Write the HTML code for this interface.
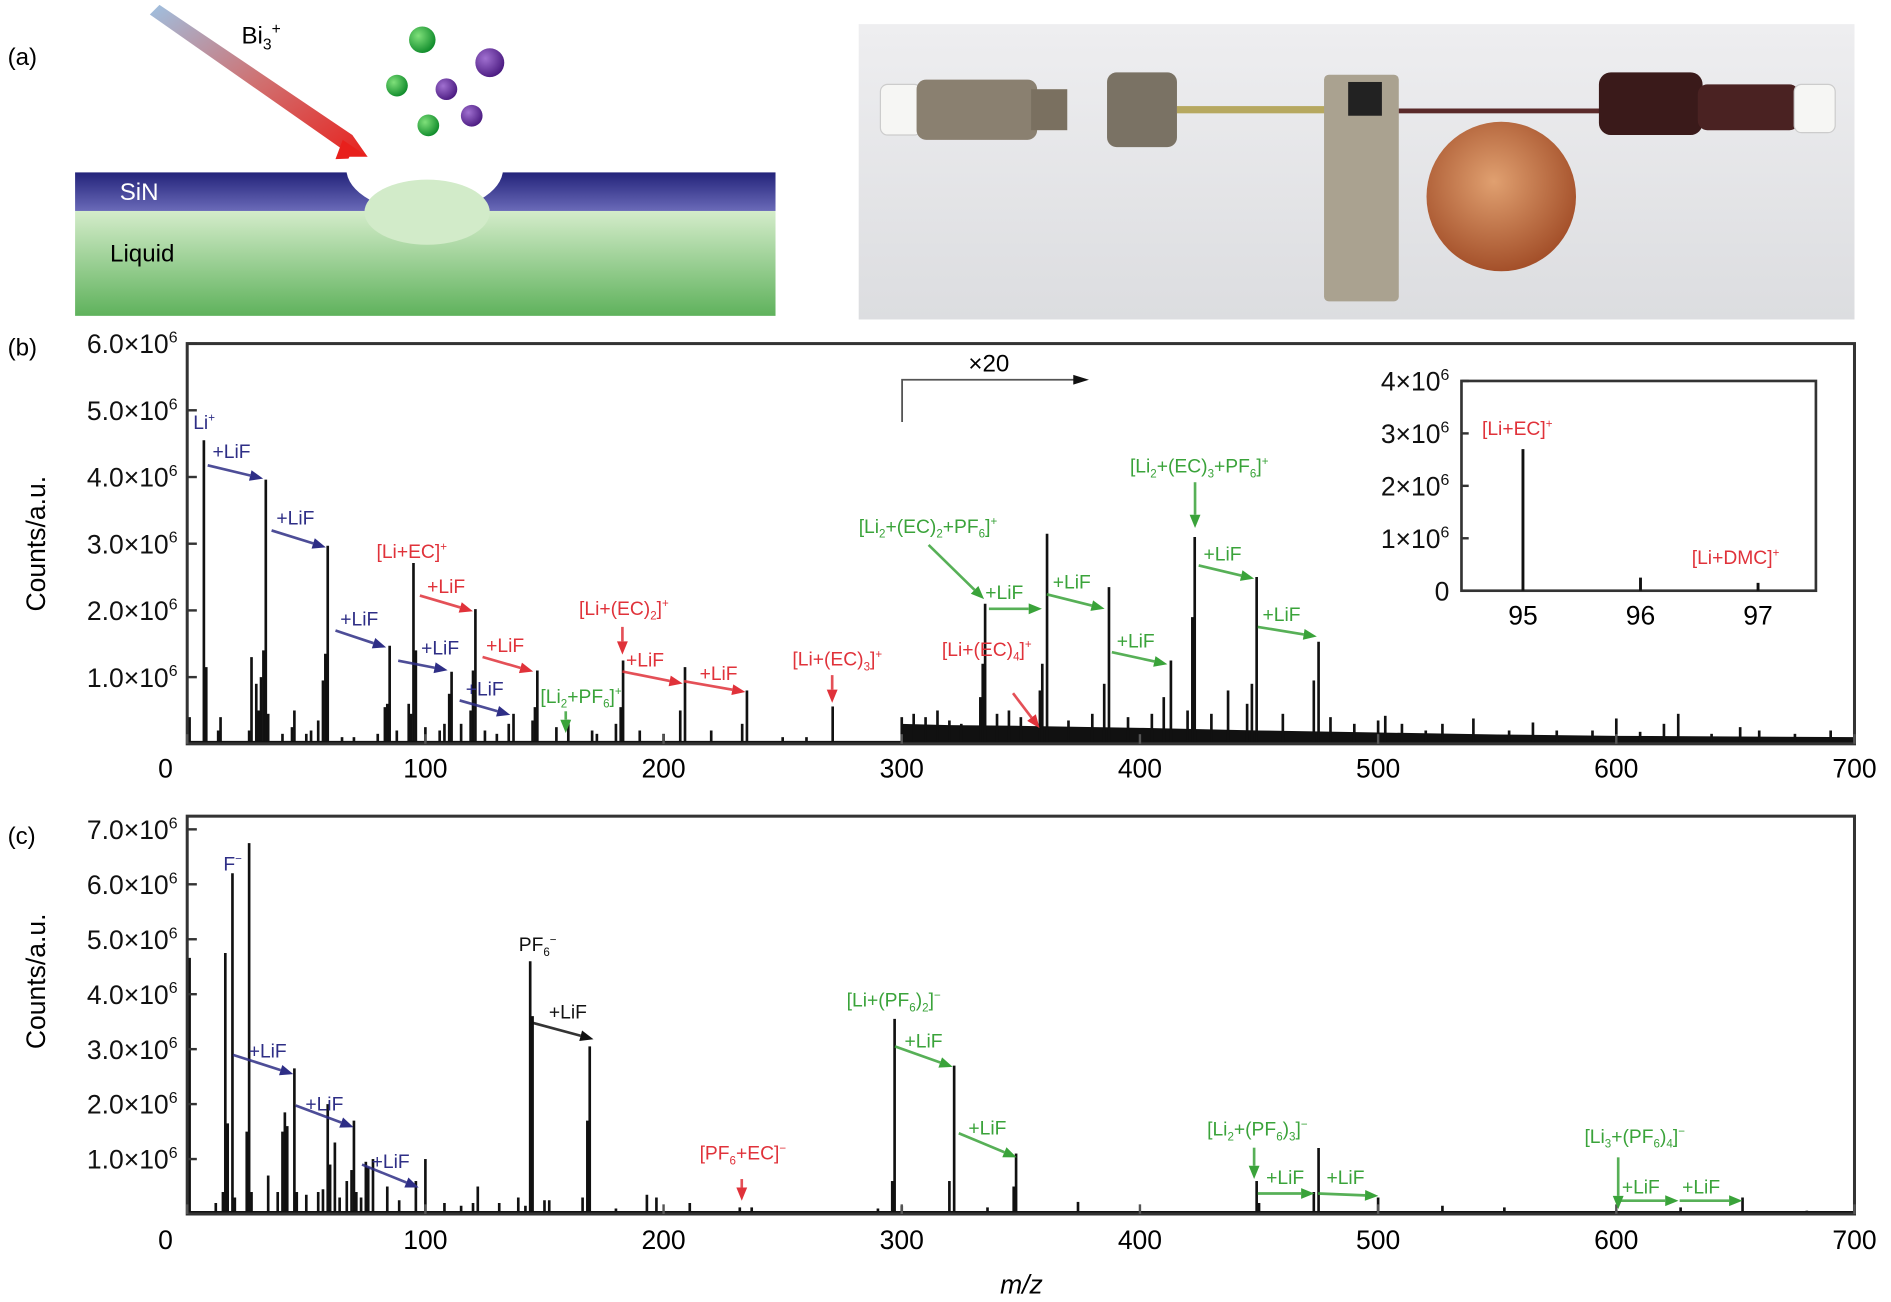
<!DOCTYPE html>
<html><head><meta charset="utf-8">
<style>
html,body{margin:0;padding:0;background:#fff;}
svg{display:block;}
text{font-family:"Liberation Sans",Arial,sans-serif;}
</style></head>
<body>
<svg id="fig" width="1891" height="1302" viewBox="0 0 1568 1080" xmlns="http://www.w3.org/2000/svg">
<defs>
<linearGradient id="beam" x1="0" y1="0" x2="1" y2="1"><stop offset="0" stop-color="#9fc0e0"/><stop offset="0.5" stop-color="#d07070"/><stop offset="1" stop-color="#e8201c"/></linearGradient>
<linearGradient id="sin" x1="0" y1="0" x2="0" y2="1"><stop offset="0" stop-color="#23237a"/><stop offset="1" stop-color="#6a6ab8"/></linearGradient>
<linearGradient id="liq" x1="0" y1="0" x2="0" y2="1"><stop offset="0" stop-color="#d4ecca"/><stop offset="1" stop-color="#5fb25c"/></linearGradient>
<radialGradient id="gball" cx="0.35" cy="0.35" r="0.7"><stop offset="0" stop-color="#7fe07a"/><stop offset="1" stop-color="#0e8a2a"/></radialGradient>
<radialGradient id="pball" cx="0.35" cy="0.35" r="0.7"><stop offset="0" stop-color="#a070d0"/><stop offset="1" stop-color="#4a1a80"/></radialGradient>
<radialGradient id="coin" cx="0.45" cy="0.4" r="0.6"><stop offset="0" stop-color="#e0a070"/><stop offset="1" stop-color="#a4502a"/></radialGradient>
<linearGradient id="photoBg" x1="0" y1="0" x2="0" y2="1"><stop offset="0" stop-color="#eeeef0"/><stop offset="1" stop-color="#dcdde0"/></linearGradient>
<clipPath id="bandClip"><rect x="62" y="130" width="581" height="45"/></clipPath>
</defs>

<!-- Panel a -->
<g>
<text x="6" y="54" font-size="20">(a)</text>
<polygon points="124,12 132,4 292,112 306,132 284,124" fill="url(#beam)"/>
<polygon points="284,116 306,131 278,132" fill="#e8201c"/>
<text x="200" y="36" font-size="20">Bi<tspan font-size="13" dy="5">3</tspan><tspan font-size="13" dy="-13">+</tspan></text>
<circle cx="350" cy="33" r="11" fill="url(#gball)"/><circle cx="329" cy="71" r="9" fill="url(#gball)"/><circle cx="355" cy="104" r="9" fill="url(#gball)"/>
<circle cx="406" cy="52" r="12" fill="url(#pball)"/><circle cx="370" cy="74" r="9" fill="url(#pball)"/><circle cx="391" cy="96" r="9" fill="url(#pball)"/>
<rect x="62" y="143" width="581" height="32" fill="url(#sin)"/>
<ellipse cx="352" cy="140" rx="65" ry="36" fill="#fff" clip-path="url(#bandClip)"/>
<rect x="62" y="175" width="581" height="87" fill="url(#liq)"/>
<ellipse cx="354" cy="176" rx="52" ry="27" fill="#d2ebc9"/>
<text x="99" y="166" font-size="20" fill="#fff">SiN</text>
<text x="91" y="217" font-size="20">Liquid</text>
</g>

<!-- Photo -->
<g>
<rect x="712" y="20" width="826" height="245" fill="url(#photoBg)"/>
<rect x="730" y="70" width="34" height="42" rx="6" fill="#f6f6f4" stroke="#ccc"/>
<rect x="760" y="66" width="100" height="50" rx="8" fill="#8a8070"/>
<rect x="855" y="74" width="30" height="34" fill="#7a7060"/>
<rect x="918" y="60" width="58" height="62" rx="8" fill="#7a7264"/>
<rect x="976" y="88" width="128" height="6" fill="#b6a860"/>
<rect x="1098" y="62" width="62" height="188" rx="4" fill="#aaa290"/>
<rect x="1118" y="68" width="28" height="28" fill="#222"/>
<rect x="1160" y="90" width="170" height="4" fill="#5a2a2a"/>
<circle cx="1245" cy="163" r="62" fill="url(#coin)"/>
<rect x="1326" y="60" width="86" height="52" rx="10" fill="#3a1a1a"/>
<rect x="1408" y="70" width="84" height="38" rx="8" fill="#4a2222"/>
<rect x="1488" y="70" width="34" height="40" rx="6" fill="#f6f6f4" stroke="#ccc"/>
</g>

<g id="panelB"></g>
<g id="panelC"></g>
</svg>

<script>
// ---------- Panel b data ----------
const bPeakMz = [1,7,8,13,14,26,27,29,30,31,32,33,34,40,44,45,50,52,55,57,58,59,65,70,80,83,84,85,88,93,94,95,96,100,106,108,110,111,115,119,120,121,125,130,135,137,145,146,147,155,160,170,172,180,182,183,190,200,207,209,220,233,235,250,260,271,300,305,310,315,320,325,333,334,335,340,345,350,358,359,361,370,380,385,387,395,405,410,413,420,422,423,430,437,445,447,449,460,473,475,480,490,500,503,510,520,527,540,555,565,575,590,600,610,620,626,640,652,660,675,690];
const bPeakVal = [0.4,4.55,1.15,0.2,0.4,0.2,1.3,0.9,0.5,1.0,1.4,3.96,0.45,0.15,0.25,0.5,0.15,0.2,0.35,0.95,1.35,2.97,0.1,0.1,0.15,0.55,0.6,1.47,0.2,0.6,0.45,2.71,1.4,0.25,0.2,0.3,0.75,1.08,0.3,0.5,1.1,2.02,0.2,0.15,0.3,0.45,0.35,0.55,1.1,0.25,0.36,0.2,0.15,0.3,0.55,1.25,0.2,0.15,0.5,1.15,0.2,0.3,0.8,0.1,0.1,0.56,0.4,0.45,0.4,0.5,0.35,0.3,0.7,1.2,2.1,0.45,0.5,0.4,0.8,1.2,3.15,0.35,0.45,0.9,2.35,0.4,0.45,0.7,1.25,0.5,1.9,3.1,0.45,0.8,0.6,0.9,2.5,0.45,0.95,1.53,0.4,0.3,0.35,0.42,0.3,0.2,0.3,0.38,0.2,0.32,0.2,0.2,0.38,0.18,0.3,0.45,0.15,0.25,0.2,0.15,0.2];
const bBaseMz  = [300,320,350,400,450,500,550,600,650,700];
const bBaseVal = [0.3,0.28,0.27,0.24,0.2,0.17,0.14,0.12,0.11,0.1];
const bYTicks = [1,2,3,4,5,6];
const bXTicks = [0,100,200,300,400,500,600,700];
const insetMz = [95,96,97];
const insetVal = [2.7,0.25,0.15];
const insetYTicks = [0,1,2,3,4];

// ---------- Panel c data ----------
const cPeakMz = [1,12,15,16,17,19,20,25,26,27,34,38,40,41,42,45,46,50,55,57,59,60,62,64,67,69,70,71,73,75,76,78,84,89,96,100,108,115,120,122,131,139,142,144,145,150,152,166,168,169,180,193,197,211,232,237,260,290,296,297,300,320,322,336,347,348,374,400,420,449,450,473,475,500,527,553,580,600,627,653,680];
const cPeakVal = [4.66,0.2,0.4,4.75,1.65,6.2,0.3,1.5,6.75,0.4,0.7,0.4,1.5,1.85,1.6,2.65,0.4,0.35,0.4,0.45,2.0,0.9,1.3,0.3,0.6,0.8,1.7,0.4,0.3,0.95,0.85,1.0,0.5,0.25,0.6,1.0,0.2,0.15,0.2,0.5,0.2,0.3,0.15,4.6,3.6,0.25,0.25,0.3,1.7,3.05,0.1,0.35,0.3,0.2,0.12,0.12,0.05,0.1,0.6,3.55,0.15,0.6,2.7,0.12,0.5,1.1,0.22,0.05,0.05,0.6,0.2,0.4,1.2,0.3,0.15,0.12,0.05,0.06,0.12,0.3,0.06];
const cYTicks = [1,2,3,4,5,6,7];
const cXTicks = [0,100,200,300,400,500,600,700];

const NS = 'http://www.w3.org/2000/svg';
function el(tag, attrs, parent) {
  const e = document.createElementNS(NS, tag);
  for (const k in attrs) e.setAttribute(k, attrs[k]);
  parent.appendChild(e);
  return e;
}
function richText(parent, x, y, parts, size, fill, anchor) {
  const t = el('text', {x: x, y: y, 'font-size': size, fill: fill, 'text-anchor': anchor || 'start'}, parent);
  let shift = 0;
  parts.forEach(p => {
    const s = document.createElementNS(NS, 'tspan');
    let dy = 0, fs = size;
    if (p[1] === 'sup') { dy = -size * 0.4 - shift; shift = -size * 0.4; fs = size * 0.6; }
    else if (p[1] === 'sub') { dy = size * 0.25 - shift; shift = size * 0.25; fs = size * 0.6; }
    else { dy = -shift; shift = 0; }
    s.setAttribute('dy', dy);
    s.setAttribute('font-size', fs);
    s.textContent = p[0];
    t.appendChild(s);
  });
  return t;
}
function arrow(parent, x1, y1, x2, y2, color) {
  const g = el('g', {}, parent);
  const dx = x2 - x1, dy = y2 - y1, L = Math.hypot(dx, dy), ux = dx / L, uy = dy / L;
  const bx = x2 - ux * 11, by = y2 - uy * 11;
  el('line', {x1: x1, y1: y1, x2: bx, y2: by, stroke: color, 'stroke-width': 2.2, opacity: 0.85}, g);
  el('polygon', {points: `${x2},${y2} ${bx - uy * 4.5},${by + ux * 4.5} ${bx + uy * 4.5},${by - ux * 4.5}`, fill: color}, g);
  return g;
}

const X0 = 155, X1 = 1538, XMAX = 700;
const xs = m => X0 + (m / XMAX) * (X1 - X0);

// ---------- Panel b ----------
(function () {
  const g = document.getElementById('panelB');
  const top = 285, bot = 617, ymax = 6;
  const ys = v => bot - (v / ymax) * (bot - top);
  const lbl = el('text', {x: 6, y: 295, 'font-size': 20}, g);
    lbl.textContent = '(b)';
  let pts = `${xs(bBaseMz[0])},${bot} `;
  bBaseMz.forEach((m, i) => { pts += `${xs(m)},${ys(bBaseVal[i])} `; });
  pts += `${xs(bBaseMz[bBaseMz.length - 1])},${bot}`;
  const bf = el('polygon', {points: pts, fill: '#111'}, g);
   
  el('line', {x1: X0, y1: bot - 1, x2: X1, y2: bot - 1, stroke: '#111', 'stroke-width': 3}, g);
  bPeakMz.forEach((m, i) => {
    const l = el('line', {x1: xs(m), y1: bot, x2: xs(m), y2: ys(bPeakVal[i]), stroke: '#111', 'stroke-width': 2.2}, g);
     
  });
  const fr = el('rect', {x: X0, y: top, width: X1 - X0, height: bot - top, fill: 'none', stroke: '#333', 'stroke-width': 2.5}, g);
   
  bYTicks.forEach(v => {
    el('line', {x1: X0, y1: ys(v), x2: X0 + 8, y2: ys(v), stroke: '#333', 'stroke-width': 2}, g);
    const t = richText(g, 147, ys(v) + 8, [[v.toFixed(1) + '×10'], ['6', 'sup']], 22, '#111', 'end');
     
  });
  bXTicks.forEach(v => {
    el('line', {x1: xs(v), y1: bot, x2: xs(v), y2: bot - 8, stroke: '#555', 'stroke-width': 2}, g);
    const t = el('text', {x: xs(v) - (v === 0 ? 18 : 0), y: 645, 'font-size': 22, 'text-anchor': 'middle'}, g);
     
    t.textContent = v;
  });
  const yt = el('text', {x: 0, y: 0, 'font-size': 22, 'text-anchor': 'middle', transform: 'translate(37,451) rotate(-90)'}, g);
   
  yt.textContent = 'Counts/a.u.';
  el('polyline', {points: '748,350 748,315 892,315', fill: 'none', stroke: '#555', 'stroke-width': 1.5}, g);
  el('polygon', {points: '903,315 890,311 890,319', fill: '#111'}, g);
  const x20 = el('text', {x: 803, y: 308, 'font-size': 20}, g);
    x20.textContent = '×20';

  const B = '#2e2e86', R = '#e0323a', G = '#3aa33a';
  const anns = [
    [160, 356, [['Li'], ['+', 'sup']], B], [176, 380, [['+LiF']], B], [229, 435, [['+LiF']], B],
    [312, 463, [['[Li+EC]'], ['+', 'sup']], R], [282, 519, [['+LiF']], B], [354, 492, [['+LiF']], R],
    [349, 543, [['+LiF']], B], [403, 541, [['+LiF']], R], [386, 577, [['+LiF']], B],
    [448, 583, [['[Li'], ['2', 'sub'], ['+PF'], ['6', 'sub'], [']'], ['+', 'sup']], G],
    [480, 510, [['[Li+(EC)'], ['2', 'sub'], [']'], ['+', 'sup']], R],
    [519, 553, [['+LiF']], R], [580, 564, [['+LiF']], R],
    [657, 552, [['[Li+(EC)'], ['3', 'sub'], [']'], ['+', 'sup']], R],
    [781, 544, [['[Li+(EC)'], ['4', 'sub'], [']'], ['+', 'sup']], R],
    [712, 442, [['[Li'], ['2', 'sub'], ['+(EC)'], ['2', 'sub'], ['+PF'], ['6', 'sub'], [']'], ['+', 'sup']], G],
    [817, 497, [['+LiF']], G], [873, 488, [['+LiF']], G], [926, 537, [['+LiF']], G],
    [937, 392, [['[Li'], ['2', 'sub'], ['+(EC)'], ['3', 'sub'], ['+PF'], ['6', 'sub'], [']'], ['+', 'sup']], G],
    [998, 465, [['+LiF']], G], [1047, 515, [['+LiF']], G]
  ];
  anns.forEach(a => {
    const t = richText(g, a[0], a[1], a[2], 16, a[3]);
     
  });
  const arrs = [
    [172, 386, 218, 397, B], [225, 440, 270, 454, B], [278, 523, 320, 537, B], [348, 494, 392, 507, R],
    [330, 548, 371, 556, B], [400, 545, 442, 557, R], [381, 581, 423, 593, B], [469, 590, 469, 608, G],
    [516, 520, 516, 543, R], [516, 557, 566, 567, R], [567, 565, 618, 574, R], [690, 560, 690, 583, R],
    [840, 575, 862, 604, R], [770, 452, 816, 497, G], [820, 505, 864, 505, G], [868, 493, 916, 505, G],
    [922, 541, 968, 551, G], [991, 400, 991, 438, G], [994, 469, 1040, 480, G], [1043, 520, 1092, 528, G]
  ];
  arrs.forEach(a => {
    const ar = arrow(g, a[0], a[1], a[2], a[3], a[4]);
     
  });

  const ig = el('g', {}, g);
   
  const iL = 1212, iR = 1506, iT = 316, iB = 490;
  const ixs = m => 1263 + (m - 95) * 97.5;
  const iys = v => iB - (v / 4) * (iB - iT);
  el('rect', {x: iL, y: iT, width: iR - iL, height: iB - iT, fill: '#fff', stroke: '#333', 'stroke-width': 2.2}, ig);
  insetMz.forEach((m, i) => {
    const l = el('line', {x1: ixs(m), y1: iB, x2: ixs(m), y2: iys(insetVal[i]), stroke: '#111', 'stroke-width': 2.4}, ig);
     
  });
  insetYTicks.forEach(v => {
    el('line', {x1: iL, y1: iys(v), x2: iL + 6, y2: iys(v), stroke: '#333', 'stroke-width': 2}, ig);
    const parts = v === 0 ? [['0']] : [[v + '×10'], ['6', 'sup']];
    const t = richText(ig, 1202, iys(v) + 8, parts, 22, '#111', 'end');
     
  });
  insetMz.forEach(m => {
    const t = el('text', {x: ixs(m), y: 518, 'font-size': 22, 'text-anchor': 'middle'}, ig);
     
    t.textContent = m;
  });
  const l1 = richText(ig, 1229, 361, [['[Li+EC]'], ['+', 'sup']], 16, R);
   
  const l2 = richText(ig, 1403, 468, [['[Li+DMC]'], ['+', 'sup']], 16, R);
   
})();

// ---------- Panel c ----------
(function () {
  const g = document.getElementById('panelC');
  const top = 677, bot = 1007, ymax = 7.24;
  const ys = v => bot - (v / ymax) * (bot - top);
  const lbl = el('text', {x: 6, y: 700, 'font-size': 20}, g);
    lbl.textContent = '(c)';
  el('line', {x1: X0, y1: bot - 1, x2: X1, y2: bot - 1, stroke: '#111', 'stroke-width': 3}, g);
  cPeakMz.forEach((m, i) => {
    const l = el('line', {x1: xs(m), y1: bot, x2: xs(m), y2: ys(cPeakVal[i]), stroke: '#111', 'stroke-width': 2.2}, g);
     
  });
  const fr = el('rect', {x: X0, y: top, width: X1 - X0, height: bot - top, fill: 'none', stroke: '#333', 'stroke-width': 2.5}, g);
   
  cYTicks.forEach(v => {
    el('line', {x1: X0, y1: ys(v), x2: X0 + 8, y2: ys(v), stroke: '#333', 'stroke-width': 2}, g);
    const t = richText(g, 147, ys(v) + 8, [[v.toFixed(1) + '×10'], ['6', 'sup']], 22, '#111', 'end');
     
  });
  cXTicks.forEach(v => {
    el('line', {x1: xs(v), y1: bot, x2: xs(v), y2: bot - 8, stroke: '#555', 'stroke-width': 2}, g);
    const t = el('text', {x: xs(v) - (v === 0 ? 18 : 0), y: 1036, 'font-size': 22, 'text-anchor': 'middle'}, g);
     
    t.textContent = v;
  });
  const yt = el('text', {x: 0, y: 0, 'font-size': 22, 'text-anchor': 'middle', transform: 'translate(37,814) rotate(-90)'}, g);
   
  yt.textContent = 'Counts/a.u.';
  const xt = el('text', {x: 847, y: 1073, 'font-size': 22, 'text-anchor': 'middle', 'font-style': 'italic'}, g);
   
  xt.textContent = 'm/z';

  const B = '#2e2e86', R = '#e0323a', G = '#3aa33a', K = '#111';
  const anns = [
    [185, 722, [['F'], ['−', 'sup']], B], [206, 877, [['+LiF']], B], [253, 921, [['+LiF']], B], [308, 969, [['+LiF']], B],
    [430, 789, [['PF'], ['6', 'sub'], ['−', 'sup']], K], [455, 845, [['+LiF']], K],
    [702, 835, [['[Li+(PF'], ['6', 'sub'], [')'], ['2', 'sub'], [']'], ['−', 'sup']], G],
    [750, 869, [['+LiF']], G], [803, 941, [['+LiF']], G],
    [580, 962, [['[PF'], ['6', 'sub'], ['+EC]'], ['−', 'sup']], R],
    [1001, 942, [['[Li'], ['2', 'sub'], ['+(PF'], ['6', 'sub'], [')'], ['3', 'sub'], [']'], ['−', 'sup']], G],
    [1050, 982, [['+LiF']], G], [1100, 982, [['+LiF']], G],
    [1314, 948, [['[Li'], ['3', 'sub'], ['+(PF'], ['6', 'sub'], [')'], ['4', 'sub'], [']'], ['−', 'sup']], G],
    [1345, 990, [['+LiF']], G], [1395, 990, [['+LiF']], G]
  ];
  anns.forEach(a => {
    const t = richText(g, a[0], a[1], a[2], 16, a[3]);
     
  });
  const arrs = [
    [193, 875, 243, 891, B], [245, 917, 293, 935, B], [300, 966, 347, 985, B], [440, 848, 492, 862, K],
    [742, 868, 790, 885, G], [795, 940, 843, 960, G], [615, 978, 615, 996, R], [1040, 952, 1040, 978, G],
    [1043, 990, 1090, 990, G], [1093, 990, 1143, 992, G], [1342, 960, 1342, 1003, G],
    [1343, 996, 1392, 996, G], [1393, 996, 1445, 996, G]
  ];
  arrs.forEach(a => {
    const ar = arrow(g, a[0], a[1], a[2], a[3], a[4]);
     
  });
})();
</script>
</body></html>
